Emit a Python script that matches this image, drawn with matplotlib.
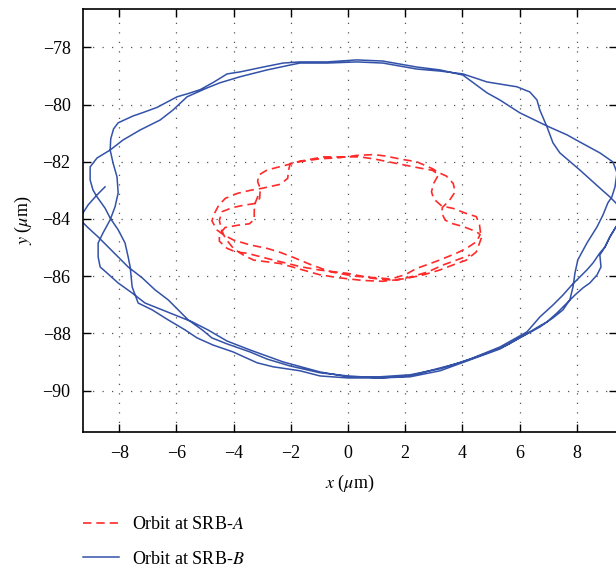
import numpy as np
import matplotlib
matplotlib.use("Agg")
import matplotlib.pyplot as plt

plt.rcParams["font.family"] = ["Liberation Serif", "DejaVu Serif"]
plt.rcParams["mathtext.fontset"] = "stix"
plt.rcParams["font.size"] = 13

# orbit at SRB-B, beam position in um (about two and a half turns)
orbit_b_x = [
    -8.50, -8.78, -9.09, -9.27, -9.37, -9.09, -8.74, -8.39, -8.04, -7.69,
    -7.20, -6.75, -6.29, -5.94, -5.59, -5.10, -4.76, -4.23, -3.43, -2.83,
    -2.03, -0.98, 0.00, 1.12, 2.17, 3.22, 4.27, 5.31, 6.01, 6.71,
    7.17, 7.52, 7.76, 7.87, 7.94, 8.04, 8.36, 8.71, 8.92, 9.09,
    9.23, 9.34, 9.41, 9.27, 8.81, 8.11, 7.66, 6.96, 6.01, 5.31,
    4.86, 4.02, 3.22, 2.41, 1.22, 0.31, -0.73, -1.68, -2.27, -2.97,
    -3.78, -4.23, -4.70, -5.17, -5.60, -5.98, -6.68, -7.17, -7.52, -8.04,
    -8.20, -8.30, -8.32, -8.22, -8.08, -8.04, -8.15, -8.32, -8.57, -8.74,
    -8.74, -8.67, -8.43, -8.04, -7.55, -7.10, -6.50, -6.05, -5.45, -4.90,
    -4.23, -3.43, -2.27, -0.98, 0.00, 1.12, 2.17, 3.22, 4.27, 5.31,
    6.26, 6.71, 7.17, 7.52, 7.83, 8.11, 8.36, 8.57, 8.81, 8.99,
    9.16, 9.37, 9.65, 9.37, 9.16, 8.81, 8.11, 7.41, 7.17, 6.96,
    6.71, 6.61, 6.36, 5.91, 4.86, 4.02, 3.22, 2.41, 1.22, 0.31,
    -0.73, -1.68, -2.03, -2.83, -3.78, -4.48, -4.93, -5.63, -6.12, -6.57,
    -7.27, -7.87, -8.32, -8.78, -9.02, -9.02, -8.92, -8.78, -8.50, -8.32,
    -8.04, -7.80, -7.69, -7.62, -7.55, -7.34, -6.85, -6.29, -5.70, -5.28,
    -4.72, -4.02, -3.18, -2.62, -1.68, -0.98, 0.00, 1.12, 2.17, 3.22,
    3.92, 4.86, 5.56, 6.36, 6.71, 6.96, 7.31, 7.66, 7.94, 8.22,
    8.46, 8.71, 8.85, 8.81, 8.99, 9.16, 9.37, 9.65,
]
orbit_b_y = [
    -82.88, -83.16, -83.51, -83.79, -84.03, -84.31, -84.63, -84.98, -85.33, -85.68,
    -86.06, -86.48, -86.83, -87.18, -87.53, -87.88, -88.16, -88.37, -88.65, -88.90,
    -89.14, -89.38, -89.49, -89.56, -89.52, -89.31, -88.93, -88.55, -88.16, -87.78,
    -87.46, -87.18, -86.83, -86.38, -85.89, -85.43, -84.84, -84.28, -83.86, -83.44,
    -83.23, -82.88, -82.39, -82.01, -81.69, -81.31, -81.06, -80.75, -80.29, -79.84,
    -79.59, -78.97, -78.79, -78.69, -78.48, -78.44, -78.51, -78.51, -78.55, -78.69,
    -78.86, -78.93, -79.22, -79.48, -79.62, -79.73, -80.10, -80.28, -80.40, -80.64,
    -80.85, -81.20, -81.59, -82.04, -82.53, -83.09, -83.58, -84.03, -84.49, -84.84,
    -85.33, -85.68, -85.89, -86.24, -86.59, -86.94, -87.18, -87.36, -87.60, -87.88,
    -88.27, -88.58, -89.00, -89.35, -89.52, -89.52, -89.45, -89.24, -88.90, -88.48,
    -87.95, -87.43, -87.01, -86.66, -86.31, -86.03, -85.78, -85.54, -85.19, -84.98,
    -84.63, -84.28, -83.86, -83.44, -83.23, -82.92, -82.29, -81.69, -81.34, -80.78,
    -80.19, -79.84, -79.56, -79.38, -79.21, -78.93, -78.83, -78.76, -78.55, -78.51,
    -78.55, -78.55, -78.62, -78.79, -79.03, -79.24, -79.42, -79.73, -80.19, -80.54,
    -80.89, -81.24, -81.59, -81.87, -82.18, -82.64, -82.99, -83.23, -83.62, -83.97,
    -84.38, -84.84, -85.33, -85.68, -86.38, -86.94, -87.18, -87.53, -87.88, -88.16,
    -88.41, -88.65, -89.03, -89.17, -89.31, -89.49, -89.56, -89.56, -89.49, -89.21,
    -89.03, -88.69, -88.41, -87.95, -87.74, -87.60, -87.29, -86.94, -86.66, -86.41,
    -86.24, -85.96, -85.68, -85.26, -84.98, -84.63, -84.28, -84.03,
]

# orbit at SRB-A, beam position in um
orbit_a_x = [
    -3.15, -3.27, -3.28, -3.28, -3.45, -3.85, -4.30, -4.50,
    -4.50, -4.23, -3.94, -3.53, -3.07, -2.60, -2.14, -1.67, -0.97, -0.04,
    0.87, 1.57, 2.04, 2.62, 3.20, 3.67, 4.14, 4.49, 4.66, 4.60,
    4.49, 4.14, 3.67, 3.28, 3.00, 2.92, 3.00, 3.17, 2.95, 2.40,
    1.90, 1.40, 0.90, 0.40, -0.10, -0.85, -1.67, -2.02, -2.08, -2.11,
    -2.37, -3.01, -3.42, -3.88, -4.29, -4.52, -4.70, -4.76, -4.58, -4.35,
    -4.00, -3.42, -2.83, -2.37, -1.90, -1.30, -0.60, 0.20, 0.90, 1.50,
    2.00, 2.40, 2.74, 3.20, 3.79, 4.14, 4.49, 4.62, 4.50, 4.04,
    3.60, 3.40, 3.28, 3.30, 3.55, 3.75, 3.68, 3.44, 3.17, 2.97,
    2.40, 1.90, 1.30, 0.90, 0.30, -0.30, -1.00, -1.70, -2.37, -2.83,
    -3.13, -3.16, -3.07, -3.09, -3.24, -3.65, -4.06, -4.41, -4.50, -4.42,
    -4.29, -4.00, -3.65, -3.30, -2.83, -2.37, -1.70, -1.00, -0.30, 0.50,
    1.20, 1.80, 2.30, 2.80, 3.30, 3.90, 4.27,
]
orbit_a_y = [
    -83.20, -83.50, -83.75, -84.02, -84.17, -84.22, -84.30, -84.55,
    -84.78, -85.03, -85.15, -85.20, -85.32, -85.44, -85.55, -85.67, -85.79, -85.90,
    -86.08, -86.14, -86.08, -85.96, -85.79, -85.61, -85.44, -85.15, -84.68, -84.21,
    -83.92, -83.81, -83.63, -83.55, -83.30, -83.05, -82.75, -82.45, -82.30, -82.20,
    -82.10, -82.00, -81.90, -81.83, -81.83, -81.83, -81.98, -82.06, -82.30, -82.58,
    -82.79, -82.93, -83.00, -83.11, -83.28, -83.52, -83.86, -84.07, -84.39, -84.56,
    -84.74, -84.91, -85.03, -85.17, -85.35, -85.60, -85.85, -86.00, -86.05, -86.10,
    -85.95, -85.73, -85.61, -85.44, -85.20, -85.03, -84.80, -84.55, -84.45, -84.27,
    -84.15, -84.04, -83.80, -83.60, -83.35, -83.05, -82.76, -82.50, -82.38, -82.25,
    -82.00, -81.92, -81.80, -81.75, -81.78, -81.86, -81.90, -82.00, -82.17, -82.29,
    -82.47, -82.70, -82.93, -83.28, -83.46, -83.52, -83.61, -83.75, -84.05, -84.40,
    -84.68, -85.04, -85.27, -85.44, -85.50, -85.56, -85.75, -85.95, -86.06, -86.15,
    -86.18, -86.12, -86.00, -85.85, -85.62, -85.40, -85.26,
]

x_ticks = [-8, -6, -4, -2, 0, 2, 4, 6, 8]
y_ticks = [-90, -88, -86, -84, -82, -80, -78]

fig = plt.figure(figsize=(6.16, 5.69), dpi=100)
ax = fig.add_axes([83 / 616, 1 - 432 / 569, 534 / 616, 423 / 569])

ax.plot(orbit_a_x, orbit_a_y, color="#ff2a2a", lw=1.2, dashes=(5, 3),
        label="Orbit at SRB-$\\mathit{A}$")
ax.plot(orbit_b_x, orbit_b_y, color="#3352a8", lw=1.1,
        label="Orbit at SRB-$\\mathit{B}$")

ax.set_xlim(-9.27, 9.41)
ax.set_ylim(-91.45, -76.66)
ax.set_xticks(x_ticks)
ax.set_yticks(y_ticks)
ax.set_xticklabels([f"\u2212{abs(v)}" if v < 0 else str(v) for v in x_ticks])
ax.set_yticklabels([f"\u2212{abs(v)}" for v in y_ticks])
ax.tick_params(direction="in", length=6, width=1, top=True, right=True,
               labelsize=13, pad=9)
ax.grid(True, color="#555555", lw=0.9, linestyle=(0, (1, 6.6)))
for s in ax.spines.values():
    s.set_linewidth(1.2)

ax.set_xlabel("$x$ ($\\mu$m)", fontsize=13, labelpad=8)
ax.set_ylabel("$y$ ($\\mu$m)", fontsize=13, labelpad=6)

fig.legend(loc="center left", bbox_to_anchor=(83 / 616, 1 - 542 / 569),
           frameon=False, fontsize=13, handlelength=2.0, handletextpad=0.7,
           labelspacing=0.95, borderpad=0, borderaxespad=0)

fig.savefig("out.png", dpi=100)
